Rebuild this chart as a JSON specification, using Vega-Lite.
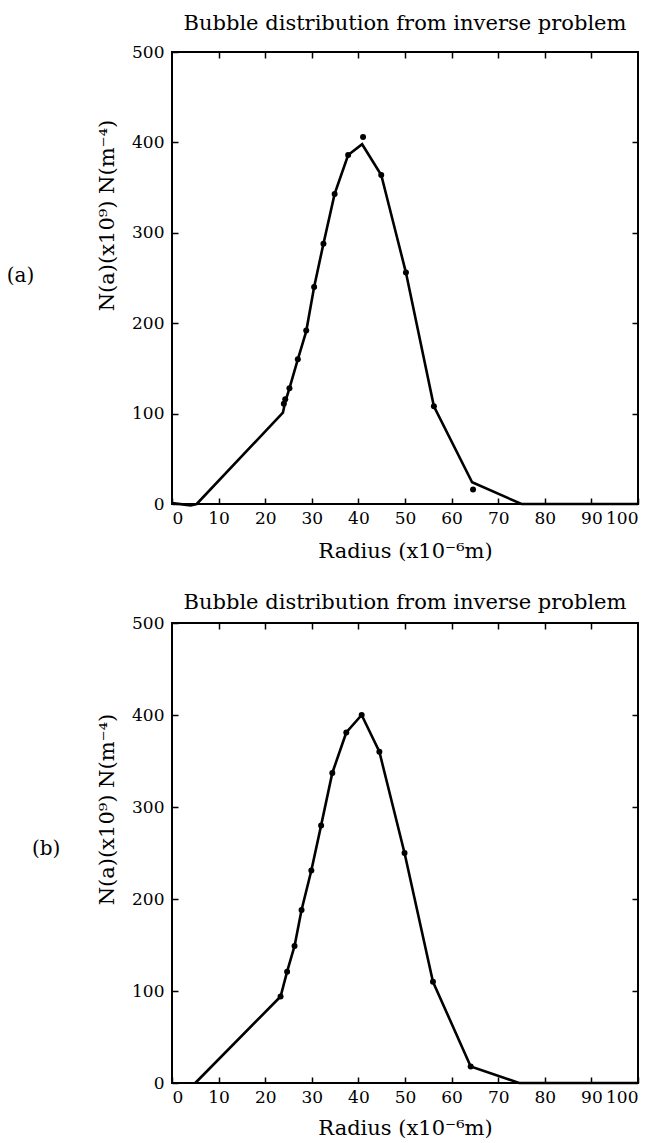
{
  "$schema": "https://vega.github.io/schema/vega-lite/v6.json",
  "autosize": {"type": "pad"},
  "padding": {"left": 5, "top": 12, "right": 0, "bottom": 0},
  "background": "white",
  "bounds": "flush",
  "spacing": 119,
  "config": {
    "font": "DejaVu Serif",
    "view": {"stroke": "black", "strokeWidth": 2},
    "axis": {
      "grid": false,
      "domain": false,
      "labelFont": "DejaVu Serif",
      "labelFontSize": 17,
      "labelColor": "black",
      "titleFont": "DejaVu Serif",
      "titleFontSize": 21,
      "titleFontWeight": "normal",
      "titleColor": "black",
      "tickColor": "black",
      "tickWidth": 1.5,
      "tickSize": -6
    },
    "title": {"font": "DejaVu Serif", "fontSize": 21, "fontWeight": "normal", "color": "black"}
  },
  "datasets": {
    "lineA": [
      {"r": 0, "n": 1}, {"r": 4, "n": -1.5}, {"r": 5.3, "n": 0}, {"r": 23.8, "n": 101},
      {"r": 24.3, "n": 113}, {"r": 25.2, "n": 128}, {"r": 27, "n": 160}, {"r": 28.8, "n": 191},
      {"r": 30.5, "n": 240}, {"r": 32.5, "n": 288}, {"r": 34.9, "n": 343}, {"r": 37.8, "n": 386},
      {"r": 40.8, "n": 398}, {"r": 44.9, "n": 364}, {"r": 50.2, "n": 256}, {"r": 56.2, "n": 108},
      {"r": 64.4, "n": 24}, {"r": 75, "n": 0}, {"r": 100, "n": 0}
    ],
    "ptsA": [
      {"r": 24, "n": 111}, {"r": 24.3, "n": 116}, {"r": 25.2, "n": 128}, {"r": 27, "n": 160},
      {"r": 28.8, "n": 192}, {"r": 30.5, "n": 240}, {"r": 32.5, "n": 288}, {"r": 34.9, "n": 343},
      {"r": 37.8, "n": 386}, {"r": 41, "n": 406}, {"r": 44.9, "n": 364}, {"r": 50.2, "n": 256},
      {"r": 56.2, "n": 108}, {"r": 64.6, "n": 16}
    ],
    "lineB": [
      {"r": 5, "n": 0}, {"r": 23.3, "n": 94}, {"r": 24.7, "n": 121}, {"r": 26.3, "n": 149},
      {"r": 27.8, "n": 188}, {"r": 29.9, "n": 231}, {"r": 32, "n": 280}, {"r": 34.4, "n": 337},
      {"r": 37.4, "n": 381}, {"r": 40.7, "n": 400}, {"r": 44.5, "n": 360}, {"r": 49.9, "n": 250},
      {"r": 56, "n": 110}, {"r": 64.1, "n": 18}, {"r": 74.5, "n": 0}, {"r": 100, "n": 0}
    ],
    "ptsB": [
      {"r": 23.3, "n": 94}, {"r": 24.7, "n": 121}, {"r": 26.3, "n": 149}, {"r": 27.8, "n": 188},
      {"r": 29.9, "n": 231}, {"r": 32, "n": 280}, {"r": 34.4, "n": 337}, {"r": 37.4, "n": 381},
      {"r": 40.7, "n": 400}, {"r": 44.5, "n": 360}, {"r": 49.9, "n": 250}, {"r": 56, "n": 110},
      {"r": 64.1, "n": 18}
    ],
    "labA": [{"label": "(a)"}],
    "labB": [{"label": "(b)"}]
  },
  "vconcat": [
    {
      "width": 466,
      "height": 452,
      "title": {"text": "Bubble distribution from inverse problem", "baseline": "alphabetic", "offset": -8},
      "layer": [
        {
          "data": {"name": "lineA"},
          "mark": {"type": "line", "color": "black", "strokeWidth": 2.6, "clip": false},
          "encoding": {
            "x": {"field": "r", "type": "quantitative", "scale": {"domain": [0, 100]},
                  "axis": {"orient": "bottom", "values": [0, 10, 20, 30, 40, 50, 60, 70, 80, 90, 100], "labelPadding": 12, "titlePadding": 14, "title": "Radius (x10⁻⁶m)"}},
            "y": {"field": "n", "type": "quantitative", "scale": {"domain": [0, 500]},
                  "axis": {"orient": "left", "values": [0, 100, 200, 300, 400, 500], "labelPadding": 14, "titlePadding": 14, "titleY": 163, "title": "N(a)(x10⁹)  N(m⁻⁴)"}}
          }
        },
        {
          "data": {"name": "ptsA"},
          "mark": {"type": "point", "filled": true, "color": "black", "size": 36, "opacity": 1, "clip": false},
          "encoding": {
            "x": {"field": "r", "type": "quantitative", "axis": {"orient": "top", "labels": false, "title": null, "values": [10, 20, 30, 40, 50, 60, 70, 80, 90]}},
            "y": {"field": "n", "type": "quantitative", "axis": {"orient": "right", "labels": false, "title": null, "values": [100, 200, 300, 400]}}
          }
        },
        {
          "data": {"name": "labA"},
          "mark": {"type": "text", "fontSize": 20, "font": "DejaVu Serif", "color": "black"},
          "encoding": {
            "x": {"datum": -32.5, "axis": null},
            "y": {"datum": 252, "axis": null},
            "text": {"field": "label"}
          }
        }
      ]
    },
    {
      "width": 466,
      "height": 460,
      "title": {"text": "Bubble distribution from inverse problem", "baseline": "alphabetic", "offset": -16},
      "layer": [
        {
          "data": {"name": "lineB"},
          "mark": {"type": "line", "color": "black", "strokeWidth": 2.6, "clip": false},
          "encoding": {
            "x": {"field": "r", "type": "quantitative", "scale": {"domain": [0, 100]},
                  "axis": {"orient": "bottom", "values": [0, 10, 20, 30, 40, 50, 60, 70, 80, 90, 100], "labelPadding": 12, "titlePadding": 12, "title": "Radius (x10⁻⁶m)"}},
            "y": {"field": "n", "type": "quantitative", "scale": {"domain": [0, 500]},
                  "axis": {"orient": "left", "values": [0, 100, 200, 300, 400, 500], "labelPadding": 14, "titlePadding": 14, "titleY": 186, "title": "N(a)(x10⁹)  N(m⁻⁴)"}}
          }
        },
        {
          "data": {"name": "ptsB"},
          "mark": {"type": "point", "filled": true, "color": "black", "size": 36, "opacity": 1, "clip": false},
          "encoding": {
            "x": {"field": "r", "type": "quantitative", "axis": {"orient": "top", "labels": false, "title": null, "values": [10, 20, 30, 40, 50, 60, 70, 80, 90]}},
            "y": {"field": "n", "type": "quantitative", "axis": {"orient": "right", "labels": false, "title": null, "values": [100, 200, 300, 400]}}
          }
        },
        {
          "data": {"name": "labB"},
          "mark": {"type": "text", "fontSize": 20, "font": "DejaVu Serif", "color": "black"},
          "encoding": {
            "x": {"datum": -27, "axis": null},
            "y": {"datum": 254, "axis": null},
            "text": {"field": "label"}
          }
        }
      ]
    }
  ]
}
